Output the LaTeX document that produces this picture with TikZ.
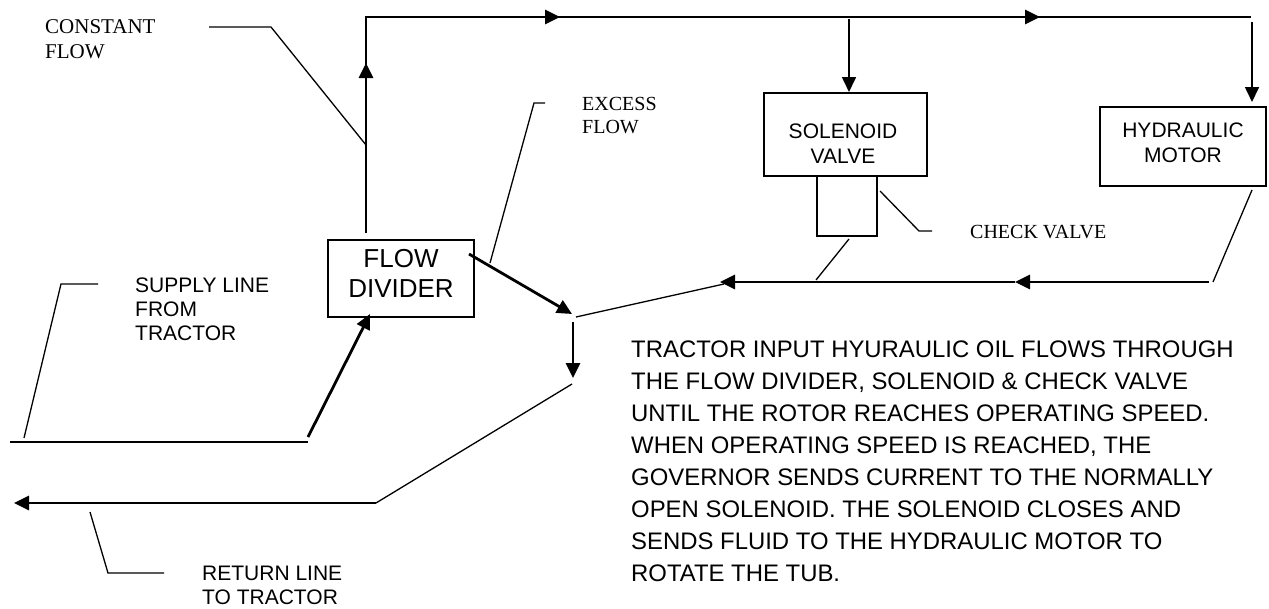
\documentclass[tikz,border=0pt]{standalone}
\usepackage{fontspec}
\setmainfont{Liberation Serif}
\setsansfont{Liberation Sans}
\usetikzlibrary{arrows.meta,calc}
\begin{document}
\begin{tikzpicture}[x=1pt,y=-1pt,
  thinl/.style={line width=1.3pt},
  medl/.style={line width=1.7pt},
  thickl/.style={line width=2.8pt},
  arr/.style={-{Triangle[length=15pt,width=14pt]}},
  box/.style={draw, line width=1.6pt, rectangle, inner sep=0pt},
  boxtext/.style={font=\sffamily\fontsize{21}{25}\selectfont, align=center, inner sep=0pt},
  seriflbl/.style={font=\rmfamily\fontsize{21}{25}\selectfont, anchor=base west, inner sep=0pt, align=left},
  sanslbl/.style={font=\sffamily\fontsize{21}{24}\selectfont, anchor=base west, inner sep=0pt, align=left},
  paratext/.style={font=\sffamily\fontsize{23.9}{32}\selectfont, anchor=base west, inner sep=0pt, align=left}
]
\useasboundingbox (0,0) rectangle (1269,608);

% boxes
\node[box, minimum width=146pt, minimum height=77pt] (FD) at (401,278.5) {};
\node[boxtext, font=\sffamily\fontsize{26}{30}\selectfont] (FDt) at (401,273) {FLOW\\DIVIDER};
\node[box, minimum width=163pt, minimum height=83pt] (SV) at (845.5,134.5) {};
\node[boxtext] (SVt) at (843,143.5) {SOLENOID\\VALVE};
\node[box, minimum width=60pt, minimum height=60pt] (CV) at (847,206) {};
\node[box, minimum width=166pt, minimum height=79pt] (HM) at (1183,146.5) {};
\node[boxtext] (HMt) at (1183,142.5) {HYDRAULIC\\MOTOR};

% labels (base anchor = baseline of last line)
\node[seriflbl] (constlbl) at (45,58) {CONSTANT\\FLOW};
\node[seriflbl, font=\rmfamily\fontsize{20}{23}\selectfont] (excesslbl) at (582,133) {EXCESS\\FLOW};
\node[seriflbl, font=\rmfamily\fontsize{20}{23}\selectfont] (checklbl) at (970,238) {CHECK VALVE};
\node[sanslbl] (supplylbl) at (135,340) {SUPPLY LINE\\FROM\\TRACTOR};
\node[sanslbl] (returnlbl) at (202,604) {RETURN LINE\\TO TRACTOR};
\node[paratext] (para) at (631,581) {TRACTOR INPUT HYURAULIC OIL FLOWS THROUGH\\THE FLOW DIVIDER, SOLENOID \& CHECK VALVE\\UNTIL THE ROTOR REACHES OPERATING SPEED.\\WHEN OPERATING SPEED IS REACHED, THE\\GOVERNOR SENDS CURRENT TO THE NORMALLY\\OPEN SOLENOID. THE SOLENOID CLOSES AND\\SENDS FLUID TO THE HYDRAULIC MOTOR TO\\ROTATE THE TUB.};

% coordinates
\coordinate (fdout) at (366,233);
\coordinate (tl) at (366,17);
\coordinate (tr) at (1251,17);
\coordinate (upA) at (366,169);
\coordinate (upB) at (366,63);
\coordinate (t1a) at (404,17);
\coordinate (t1b) at (560,17);
\coordinate (t2a) at (915,17);
\coordinate (t2b) at (1040,17);
\coordinate (svdrop) at (849,19);
\coordinate (svin) at (849,92);
\coordinate (hmdrop) at (1252,22);
\coordinate (hmin) at (1252,102);
\coordinate (exA) at (469,254);
\coordinate (jn) at (572,314);
\coordinate (jr) at (576,317);
\coordinate (dnA) at (573,322);
\coordinate (dnB) at (573,378);
\coordinate (rtA) at (572,384);
\coordinate (rtB) at (376,503);
\coordinate (rtC) at (14,503);
\coordinate (spA) at (10,442);
\coordinate (spB) at (308,442);
\coordinate (spC) at (308,437);
\coordinate (fdin) at (370,314);
\coordinate (rlA) at (1209,282);
\coordinate (rlM) at (1015,282);
\coordinate (rlB) at (720,282);
\coordinate (jrEnd) at (724,284);
\coordinate (hmout) at (1252,190);
\coordinate (hmret) at (1213,282);
\coordinate (cvout) at (849,239);
\coordinate (cvret) at (816,280);

% main flow
\draw[thinl] (fdout) -- (tl) -- (tr);
\draw[thickl, arr] (upA) -- (upB);
\draw[thickl, arr] (t1a) -- (t1b);
\draw[thickl, arr] (t2a) -- (t2b);
\draw[medl, arr] (svdrop) -- (svin);
\draw[medl, arr] (hmdrop) -- (hmin);
\draw[thickl, arr] (exA) -- (jn);
\draw[thickl, arr] (dnA) -- (dnB);
\draw[thinl] (rtA) -- (rtB);
\draw[thickl, arr] (rtB) -- (rtC);
\draw[medl] (spA) -- (spB);
\draw[thickl, arr] (spC) -- (fdin);
\draw[thickl, arr] (rlA) -- (rlM);
\draw[thickl, arr] (rlM) -- (rlB);
\draw[thinl] (jr) -- (jrEnd);
\draw[thinl] (hmout) -- (hmret);
\draw[thinl] (cvout) -- (cvret);

% leaders
\draw[thinl] (209,27) coordinate (c1) -- (271,27) coordinate (c2) -- (366,145) coordinate (c3);
\draw[thinl] (545,103) coordinate (e1) -- (534,103) coordinate (e2) -- (490,263) coordinate (e3);
\draw[thinl] (880,191) coordinate (k1) -- (919,231) coordinate (k2) -- (932,231) coordinate (k3);
\draw[thinl] (24,438) coordinate (s1) -- (61,284) coordinate (s2) -- (98,284) coordinate (s3);
\draw[thinl] (90,512) coordinate (r1) -- (108,573) coordinate (r2) -- (164,573) coordinate (r3);
\end{tikzpicture}
\end{document}
